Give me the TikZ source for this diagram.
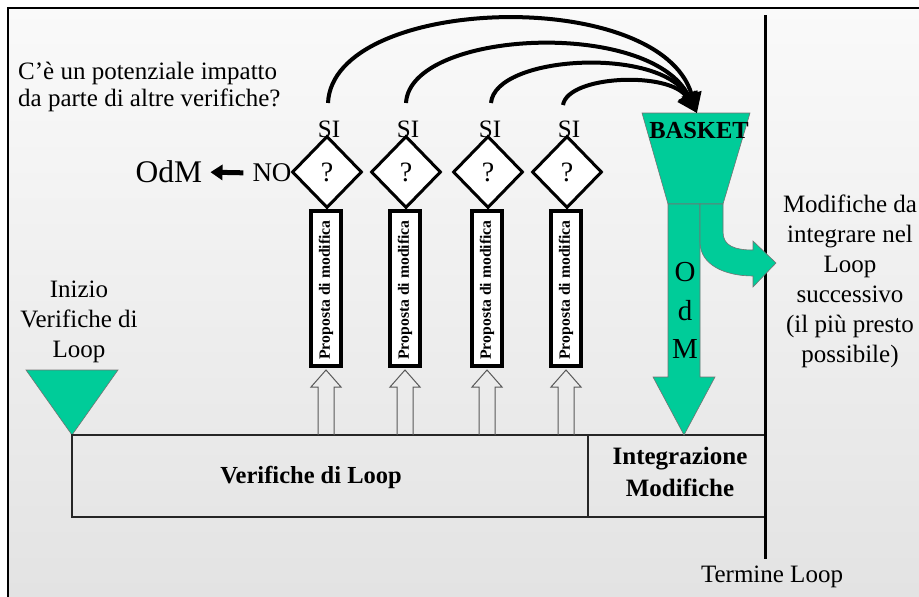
\documentclass[tikz,border=0pt]{standalone}
\usepackage{fontspec}
\setmainfont{Liberation Serif}
\usetikzlibrary{arrows.meta,shapes.geometric}
\definecolor{basketgreen}{RGB}{0,204,153}
\begin{document}
\begin{tikzpicture}[x=1pt,y=-1pt,
  txt/.style={font=\fontsize{25}{30}\selectfont, align=center, inner sep=0},
  bigtxt/.style={font=\fontsize{31.5}{34}\selectfont, inner sep=0},
  qbox/.style={diamond, draw=black, line width=3pt, fill=white, minimum width=70pt, minimum height=72pt, inner sep=0, font=\fontsize{28}{30}\selectfont},
  propbox/.style={draw=black, line width=4pt, fill=white, minimum width=30pt, minimum height=155pt, inner sep=0},
  proptext/.style={rotate=90, font=\fontsize{15.7}{18}\selectfont\bfseries, inner sep=0},
  hollow/.style={draw=black!65, line width=1pt},
  greenshape/.style={fill=basketgreen, draw=black!55, line width=0.6pt},
  curvearrow/.style={line width=4pt, -{Triangle[length=20pt,width=20pt]}},
]
\useasboundingbox (0,0) rectangle (919,597);
\fill[white] (0,0) rectangle (919,597);
\shade[top color=black!2, bottom color=black!11] (8,8) rectangle (919,597);
\draw[line width=2pt] (8,597) -- (8,8) -- (919,8);

% question text
\node[txt, align=left, anchor=west, font=\fontsize{25}{27}\selectfont] (question) at (18,87) {C’è un potenziale impatto\\da parte di altre verifiche?};

% left start triangle and label
\filldraw[greenshape] (26,370) -- (118,370) -- (72,435) -- cycle;
\node[txt] (inizio) at (79,322) {Inizio\\Verifiche di\\Loop};

% bottom bar
\draw[black!85, line width=1.2pt] (72,435) rectangle (765,517);
\draw[black!85, line width=1.2pt] (588,435) -- (588,517);
\node[txt, font=\fontsize{24.5}{30}\selectfont\bfseries] (verifiche) at (311,477) {Verifiche di Loop};
\node[txt, font=\fontsize{25}{32}\selectfont\bfseries] (integrazione) at (680,472) {Integrazione\\Modifiche};

% end line
\draw[line width=3pt] (765,15) -- (765,559);
\node[txt] (termine) at (772,577) {Termine Loop};

% columns
\foreach \i/\x in {1/326,2/405,3/487,4/566}{
  \draw[hollow] (\x-8,435) -- (\x-8,387) -- (\x-15,387) -- (\x,370) -- (\x+15,387) -- (\x+8,387) -- (\x+8,435);
  \node[propbox] (p\i) at (\x,288.5) {};
  \node[proptext] (pt\i) at (\x,290) {Proposta di modifica};
  \node[qbox] (q\i) at (\x+1,172) {?};
  \node[txt] (si\i) at (\x+3,129) {SI};
}

% NO -> OdM
\node[txt, font=\fontsize{27}{30}\selectfont] (no) at (272,173) {NO};
\node[bigtxt] (odm) at (169,172) {OdM};
\draw[line width=5pt, -{Triangle[length=12pt,width=15pt]}, shorten <=9pt, shorten >=8pt] (no.west) -- (odm.east);

% basket
\coordinate (btip) at (697,113);
\filldraw[greenshape] (642,113) -- (750,113) -- (723,204) -- (668,204) -- cycle;
\filldraw[greenshape] (668,204) -- (700,204) -- (700,377) -- (715,377) -- (684,435) -- (653,377) -- (668,377) -- cycle;
\filldraw[greenshape] (700,204) -- (700,242) .. controls (700,265) and (725,276) .. (753,276)
  -- (753,287) -- (776,263) -- (753,241) -- (753,250) .. controls (735,250) and (723,246) .. (723,232) -- (723,204) -- cycle;
\node[txt, font=\fontsize{24.5}{30}\selectfont\bfseries] (basket) at (699,131) {BASKET};
\node[bigtxt, font=\fontsize{29}{34}\selectfont] (o) at (685,272) {O};
\node[bigtxt, font=\fontsize{29}{34}\selectfont] (d) at (685,311) {d};
\node[bigtxt, font=\fontsize{29}{34}\selectfont] (m) at (685,349) {M};

% right text
\node[txt] (modifiche) at (850,281) {Modifiche da\\integrare nel\\Loop\\successivo\\(il più presto\\possibile)};

% curved arrows to basket
\coordinate (s1) at (328,103);
\coordinate (s2) at (406,103);
\coordinate (s3) at (491,103);
\coordinate (s4) at (563,105);
\draw[curvearrow] (s1) .. controls (333,-5) and (660,-15) .. (btip);
\draw[curvearrow] (s2) .. controls (410,30) and (650,18) .. (btip);
\draw[curvearrow] (s3) .. controls (495,55) and (660,46) .. (btip);
\draw[curvearrow] (s4) .. controls (568,75) and (670,71) .. (btip);
\end{tikzpicture}
\end{document}
